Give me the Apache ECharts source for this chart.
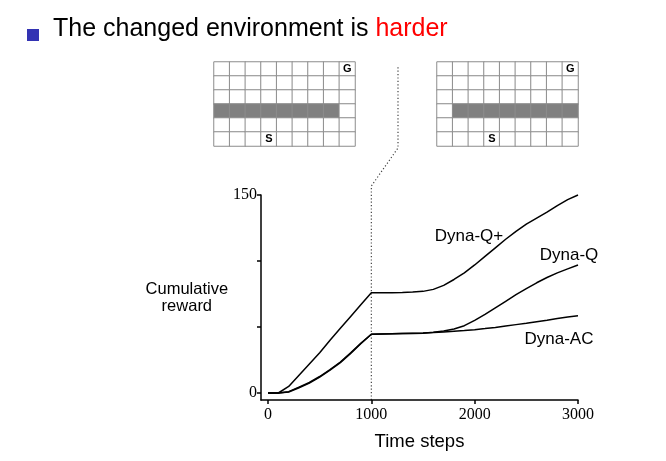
<!DOCTYPE html>
<html><head><meta charset="utf-8">
<script src="https://cdn.jsdelivr.net/npm/echarts@6/dist/echarts.min.js"></script>
<style>html,body{margin:0;padding:0;background:#fff}#c{width:666px;height:461px}</style>
</head><body><div id="c"></div>
<script>
// ---- data ----
const timeSteps = [0,100,200,300,400,500,600,700,800,900,1000,1100,1200,1300,1400,1500,1600,1700,1800,1900,2000,2100,2200,2300,2400,2500,2600,2700,2800,2900,3000];
const dynaQPlus = [0,0,5,13.5,22,30.5,40,49,58,67,76,76,76,76.2,76.5,77,78.5,81.5,86,91,97,103.5,110,116.5,122.5,128,132.5,137,142,146.5,150];
const dynaQ     = [0,0,0.8,4,7.5,12,17.3,23,30,37.5,44.5,44.7,44.8,45,45.1,45.2,46,47,48.5,51,55,59.5,64.5,69.5,74.5,79,83.5,87.5,91,94,97];
const dynaAC    = [0,0,1,4.5,8,12.5,17.8,23.5,30.5,37.8,44.5,44.7,44.9,45.1,45.3,45.4,45.8,46.3,46.8,47.3,48,48.8,49.7,50.8,51.8,52.8,54,55.2,56.5,57.6,58.6];
const seriesNames = ['Dyna-Q+','Dyna-Q','Dyna-AC'];
const xTicks = [0,1000,2000,3000];
const yTicks = [0,50,100,150];
const yTickLabels = [0,150];
const changeTime = 1000;
// maze
const mazeCols = [0,1,2,3,4,5,6,7,8];
const mazeRows = [0,1,2,3,4,5];
const wallRow = 3;
const wallBefore = [0,1,2,3,4,5,6,7];
const wallAfter = [1,2,3,4,5,6,7,8];
const goalCell = [8,0];
const startCell = [3,5];
const titleText = 'The changed environment is ';
const titleHighlight = 'harder';

// ---- build ----
const SANS = 'Liberation Sans, Arial, sans-serif';
const SERIF = 'Liberation Serif, Times New Roman, serif';
function pairs(ys){ return timeSteps.map((t,i)=>[t,ys[i]]); }
function mazeData(walls){
  const out = [];
  mazeCols.forEach(c=>mazeRows.forEach(r=>{
    const isWall = r===wallRow && walls.includes(c);
    const item = {value:[c,r,isWall?1:0], itemStyle:{color:isWall?'#808080':'#ffffff'}};
    let lab = null;
    if (c===goalCell[0] && r===goalCell[1]) lab='G';
    if (c===startCell[0] && r===startCell[1]) lab='S';
    if (lab) item.label = {show:true, formatter:lab, color:'#000', fontSize:11, fontWeight:'bold', fontFamily:SANS};
    out.push(item);
  }));
  return out;
}
const lineStyle = {color:'#000', width:1.5};
const chart = echarts.init(document.getElementById('c'), null, {renderer:'canvas'});
const option = {
  animation:false,
  backgroundColor:'#fff',
  title:{
    text:'{a|'+titleText+'}{b|'+titleHighlight+'}',
    left:53, top:17, padding:0,
    textStyle:{fontWeight:'normal', rich:{
      a:{fontSize:25, color:'#000', fontFamily:SANS, fontWeight:'normal', lineHeight:25},
      b:{fontSize:25, color:'#ff0000', fontFamily:SANS, fontWeight:'normal', lineHeight:25}
    }}
  },
  grid:[
    {left:261, right:88, top:195, bottom:61},
    {left:214, width:141, top:62, height:84},
    {left:437, width:141, top:62, height:84}
  ],
  xAxis:[
    {type:'value', gridIndex:0, min:-68, max:3000,
     axisLine:{onZero:false, lineStyle:{color:'#000', width:1.5}},
     axisTick:{customValues:xTicks, length:4, lineStyle:{color:'#000', width:1.5}},
     axisLabel:{customValues:xTicks, formatter:v=>String(v), color:'#000', fontFamily:SERIF, fontSize:16, margin:7},
     splitLine:{show:false},
     name:'Time steps', nameLocation:'middle', nameGap:32,
     nameTextStyle:{color:'#000', fontFamily:SANS, fontSize:18.5}},
    {type:'category', gridIndex:1, data:mazeCols, show:false},
    {type:'category', gridIndex:2, data:mazeCols, show:false}
  ],
  yAxis:[
    {type:'value', gridIndex:0, min:-5.3, max:150,
     axisLine:{onZero:false, lineStyle:{color:'#000', width:1.5}},
     axisTick:{customValues:yTicks, length:4, lineStyle:{color:'#000', width:1.5}},
     axisLabel:{customValues:yTickLabels, formatter:v=>String(v), color:'#000', fontFamily:SERIF, fontSize:16, margin:4},
     splitLine:{show:false},
     name:'Cumulative\nreward', nameLocation:'middle', nameRotate:0, nameGap:72,
     nameTextStyle:{color:'#000', fontFamily:SANS, fontSize:16.5, align:'center', lineHeight:17}},
    {type:'category', gridIndex:1, data:mazeRows, inverse:true, show:false},
    {type:'category', gridIndex:2, data:mazeRows, inverse:true, show:false}
  ],
  series:[
    {name:seriesNames[0], type:'line', xAxisIndex:0, yAxisIndex:0, data:pairs(dynaQPlus), showSymbol:false, lineStyle, silent:true, clip:false},
    {name:seriesNames[1], type:'line', xAxisIndex:0, yAxisIndex:0, data:pairs(dynaQ), showSymbol:false, lineStyle, silent:true},
    {name:seriesNames[2], type:'line', xAxisIndex:0, yAxisIndex:0, data:pairs(dynaAC), showSymbol:false, lineStyle, silent:true},
    {type:'heatmap', xAxisIndex:1, yAxisIndex:1, data:mazeData(wallBefore),
     itemStyle:{borderColor:'#8c8c8c', borderWidth:1}, label:{show:false}, emphasis:{disabled:true}, silent:true},
    {type:'heatmap', xAxisIndex:2, yAxisIndex:2, data:mazeData(wallAfter),
     itemStyle:{borderColor:'#8c8c8c', borderWidth:1}, label:{show:false}, emphasis:{disabled:true}, silent:true}
  ]
};
chart.setOption(option);

// annotations positioned through the axes
const px = (t,r)=>chart.convertToPixel({gridIndex:0},[t,r]);
const xc = px(changeTime,0)[0];
const yBottom = px(0,-5.3)[1];
const labelAnchors = [[1945,119],[2913,104.5],[2816,41]];
const g = [
  {type:'rect', shape:{x:27,y:29,width:12,height:12}, style:{fill:'#3333b3'}},
  {type:'polyline', shape:{points:[[xc,yBottom],[xc,186],[398,148],[398,67]]},
   style:{stroke:'#444', lineWidth:1.2, lineDash:[1.2,2.2], fill:null}}
];
seriesNames.forEach((n,i)=>{
  const p = px(labelAnchors[i][0], labelAnchors[i][1]);
  g.push({type:'text', x:p[0], y:p[1], style:{text:n, fill:'#000', font:'17px '+SANS, textAlign:'center', textVerticalAlign:'middle'}});
});
chart.setOption({graphic:g});
</script></body></html>
